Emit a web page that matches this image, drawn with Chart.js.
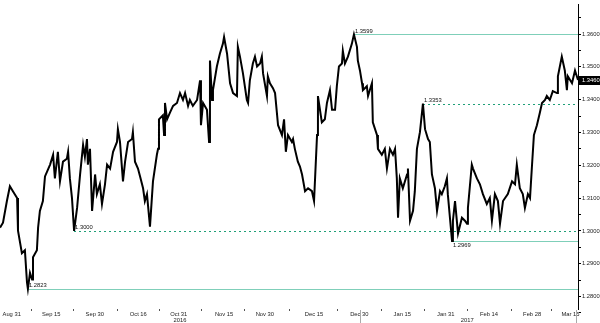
<!DOCTYPE html>
<html>
<head>
<meta charset="utf-8">
<script src="https://cdn.jsdelivr.net/npm/chart.js@4/dist/chart.umd.min.js"></script>
<style>
    html, body { margin: 0; padding: 0; background: #fff; }
    #wrap { width: 600px; height: 323px; }
</style>
</head>
<body>
<div id="wrap"><canvas id="priceChart"></canvas></div>
<script>
// session index (roughly trading days from the left edge)
const times = [
    0, 1.0, 2.3, 3.3, 4.3, 5.7, 6.0, 7.3, 8.3, 9.0, 9.3, 10.0, 10.7, 11.0, 12.3, 12.7, 13.3, 14.3, 15.0, 16.7,
    17.7, 18.3, 19.3, 20.0, 21.0, 22.3, 22.7, 23.3, 24.0, 24.7, 25.7, 26.7, 27.7, 28.3, 29.0, 29.3, 30.0, 30.7, 31.7, 32.3,
    33.3, 34.0, 35.0, 35.7, 36.7, 37.7, 39.0, 39.3, 40.0, 41.0, 41.7, 42.7, 44.0, 44.3, 45.0, 46.0, 46.7, 47.7, 48.3, 49.0,
    50.0, 51.0, 52.3, 52.7, 53.0, 54.3, 54.7, 55.0, 55.7, 56.7, 57.7, 59.0, 60.0, 61.0, 61.7, 62.7, 63.3, 64.3, 65.7, 66.7,
    67.0, 67.7, 69.0, 69.7, 70.0, 70.7, 71.0, 72.3, 73.3, 74.3, 74.7, 75.7, 76.7, 77.7, 79.0, 79.3, 80.0, 81.0, 82.3, 82.7,
    83.3, 84.3, 85.0, 85.7, 86.7, 87.3, 87.7, 89.0, 89.3, 90.0, 91.0, 91.7, 92.3, 92.7, 94.0, 94.7, 95.3, 96.0, 97.3, 97.7,
    98.3, 99.3, 100.0, 100.7, 101.7, 102.7, 104.0, 104.7, 105.7, 106.0, 107.3, 108.3, 109.0, 110.0, 110.7, 111.7, 112.3, 113.0, 114.0, 114.3,
    115.0, 116.0, 117.3, 118.0, 119.0, 119.3, 120.0, 120.7, 121.0, 122.3, 122.7, 124.0, 124.3, 125.7, 126.0, 127.3, 128.3, 129.0, 130.0, 131.0,
    131.7, 132.3, 132.7, 133.3, 134.3, 135.7, 136.0, 136.7, 137.7, 138.3, 139.0, 140.0, 141.0, 141.7, 142.7, 143.3, 144.0, 145.0, 145.7, 146.7,
    147.3, 148.3, 149.0, 149.3, 150.7, 151.0, 151.7, 152.7, 154.0, 155.0, 155.7, 156.0, 157.3, 157.7, 159.0, 160.0, 161.0, 162.3, 163.3, 164.0,
    165.0, 166.0, 166.7, 167.7, 169.3, 170.7, 171.7, 172.3, 173.3, 174.3, 175.0, 176.0, 176.7, 177.3, 178.0, 179.0, 180.0, 180.7, 181.7, 182.3,
    183.3, 184.3, 185.7, 186.0, 187.3, 188.3, 189.0, 189.3, 190.7, 191.7, 192.7
];
const prices = [
    1.3010, 1.3025, 1.3091, 1.3136, 1.3121, 1.3100, 1.3001, 1.2932, 1.2941, 1.2843, 1.2823, 1.2872, 1.2852, 1.2920, 1.2941, 1.3010, 1.3061, 1.3091, 1.3166, 1.3202,
    1.3232, 1.3160, 1.3241, 1.3151, 1.3211, 1.3220, 1.3241, 1.3160, 1.3100, 1.3000, 1.3070, 1.3172, 1.3262, 1.3226, 1.3280, 1.3202, 1.3250, 1.3061, 1.3172, 1.3112,
    1.3142, 1.3082, 1.3142, 1.3202, 1.3190, 1.3241, 1.3271, 1.3310, 1.3271, 1.3151, 1.3211, 1.3271, 1.3280, 1.3301, 1.3211, 1.3190, 1.3166, 1.3130, 1.3091, 1.3112,
    1.3013, 1.3151, 1.3232, 1.3250, 1.3340, 1.3352, 1.3292, 1.3390, 1.3340, 1.3361, 1.3381, 1.3390, 1.3420, 1.3399, 1.3420, 1.3381, 1.3399, 1.3381, 1.3399, 1.3459,
    1.3322, 1.3390, 1.3369, 1.3271, 1.3519, 1.3399, 1.3429, 1.3501, 1.3540, 1.3570, 1.3591, 1.3540, 1.3450, 1.3420, 1.3411, 1.3561, 1.3531, 1.3480, 1.3399, 1.3390,
    1.3459, 1.3510, 1.3531, 1.3501, 1.3510, 1.3531, 1.3480, 1.3411, 1.3471, 1.3450, 1.3435, 1.3420, 1.3361, 1.3322, 1.3292, 1.3340, 1.3241, 1.3292, 1.3271, 1.3280,
    1.3250, 1.3211, 1.3196, 1.3172, 1.3121, 1.3130, 1.3121, 1.3091, 1.3292, 1.3411, 1.3331, 1.3340, 1.3390, 1.3429, 1.3369, 1.3369, 1.3441, 1.3501, 1.3510, 1.3549,
    1.3510, 1.3531, 1.3570, 1.3599, 1.3561, 1.3519, 1.3489, 1.3450, 1.3429, 1.3441, 1.3411, 1.3450, 1.3331, 1.3292, 1.3250, 1.3232, 1.3250, 1.3190, 1.3250, 1.3232,
    1.3250, 1.3160, 1.3040, 1.3160, 1.3130, 1.3172, 1.3190, 1.3031, 1.3061, 1.3121, 1.3250, 1.3301, 1.3388, 1.3310, 1.3280, 1.3271, 1.3172, 1.3130, 1.3061, 1.3121,
    1.3112, 1.3136, 1.3160, 1.3112, 1.2969, 1.3031, 1.3091, 1.2992, 1.3040, 1.3031, 1.3022, 1.3070, 1.3202, 1.3190, 1.3160, 1.3142, 1.3112, 1.3082, 1.3100, 1.3031,
    1.3112, 1.3091, 1.3022, 1.3091, 1.3112, 1.3151, 1.3142, 1.3202, 1.3130, 1.3112, 1.3070, 1.3112, 1.3100, 1.3190, 1.3292, 1.3322, 1.3361, 1.3390, 1.3399, 1.3411,
    1.3399, 1.3426, 1.3420, 1.3471, 1.3531, 1.3489, 1.3429, 1.3471, 1.3450, 1.3489, 1.3460
];

const dateTicks = [3.9, 17.1, 31.6, 46.1, 59.6, 74.7, 88.3, 104.7, 119.8, 134.1, 148.6, 163.0, 177.4, 190.2];
const dateLabels = ['Aug 31', 'Sep 15', 'Sep 30', 'Oct 16', 'Oct 31', 'Nov 15', 'Nov 30', 'Dec 15', 'Dec 30', 'Jan 15', 'Jan 31', 'Feb 14', 'Feb 28', 'Mar 15'];
const yearTicks = [60.0, 155.8];
const yearLabels = ['2016', '2017'];
const yearBreaks = [120.0, 192.0];

const priceTicks = [1.28, 1.29, 1.30, 1.31, 1.32, 1.33, 1.34, 1.35, 1.36];
const minorPriceTicks = [1.275, 1.285, 1.295, 1.305, 1.315, 1.325, 1.335, 1.345, 1.355, 1.365];

// marked highs / lows
const levelValues = [1.3599, 1.3388, 1.3000, 1.2969, 1.2823];
const levelStarts = [118.0, 141.0, 24.7, 150.7, 9.3];
const levelLabels = ['1.3599', '1.3353', '1.3000', '1.2969', '1.2823'];
const levelDashed = [false, true, true, false, false];
const levelBelow = [false, false, false, true, false];

const lastPrice = 1.3460;

const FONT = "'Liberation Sans', Arial, sans-serif";
const FONT_SIZE = 5.8;

const levelPlugin = {
    id: 'levels',
    beforeDatasetsDraw(chart) {
        const { ctx, chartArea, scales: { x, y } } = chart;
        ctx.save();
        levelValues.forEach((v, i) => {
            const py = Math.round(y.getPixelForValue(v)) + 0.5;
            ctx.beginPath();
            ctx.lineWidth = 1;
            if (levelDashed[i]) {
                ctx.strokeStyle = '#1f9f78';
                ctx.setLineDash([2, 3]);
            } else {
                ctx.strokeStyle = '#7fcfb9';
                ctx.setLineDash([]);
            }
            ctx.moveTo(Math.round(x.getPixelForValue(levelStarts[i])), py);
            ctx.lineTo(chartArea.right, py);
            ctx.stroke();
        });
        ctx.restore();
    },
    afterDatasetsDraw(chart) {
        const { ctx, scales: { x, y } } = chart;
        ctx.save();
        ctx.font = FONT_SIZE + 'px ' + FONT;
        ctx.fillStyle = '#111';
        ctx.textAlign = 'left';
        levelValues.forEach((v, i) => {
            const py = y.getPixelForValue(v);
            const px = x.getPixelForValue(levelStarts[i]) + 1;
            if (levelBelow[i]) {
                ctx.textBaseline = 'top';
                ctx.fillText(levelLabels[i], px, py + 1.5);
            } else {
                ctx.textBaseline = 'bottom';
                ctx.fillText(levelLabels[i], px, py - 0.5);
            }
        });
        ctx.restore();
    },
    afterDraw(chart) {
        const { ctx, chartArea, scales: { x, y } } = chart;
        ctx.save();
        // small marks between the date labels
        ctx.strokeStyle = '#555';
        ctx.lineWidth = 1;
        for (let i = 0; i < dateTicks.length - 1; i++) {
            const px = Math.round(x.getPixelForValue((dateTicks[i] + dateTicks[i + 1]) / 2)) + 0.5;
            ctx.beginPath();
            ctx.moveTo(px, chartArea.bottom);
            ctx.lineTo(px, chartArea.bottom + 2);
            ctx.stroke();
        }
        // year separators
        ctx.strokeStyle = '#aaa';
        yearBreaks.forEach(t => {
            const px = Math.round(x.getPixelForValue(t)) + 0.5;
            ctx.beginPath();
            ctx.moveTo(px, chartArea.bottom + 1);
            ctx.lineTo(px, chart.height);
            ctx.stroke();
        });
        // year labels
        ctx.font = FONT_SIZE + 'px ' + FONT;
        ctx.fillStyle = '#222';
        ctx.textAlign = 'center';
        ctx.textBaseline = 'middle';
        yearTicks.forEach((t, i) => {
            ctx.fillText(yearLabels[i], x.getPixelForValue(t), chartArea.bottom + 11);
        });
        // last price tag
        const py = Math.round(y.getPixelForValue(lastPrice));
        ctx.fillStyle = '#000';
        ctx.fillRect(chartArea.right + 1, py - 4, chart.width - chartArea.right - 1, 9);
        ctx.fillStyle = '#fff';
        ctx.textAlign = 'left';
        ctx.fillText(lastPrice.toFixed(4), chartArea.right + 4, py + 0.5);
        ctx.restore();
    }
};

const ctx = document.getElementById('priceChart').getContext('2d');
new Chart(ctx, {
    type: 'line',
    data: {
        datasets: [{
            data: times.map((t, i) => ({ x: t, y: prices[i] })),
            borderColor: '#000',
            borderWidth: 2,
            pointRadius: 0,
            tension: 0,
            fill: false
        }]
    },
    options: {
        responsive: true,
        maintainAspectRatio: false,
        animation: false,
        layout: { padding: 0 },
        plugins: {
            legend: { display: false },
            tooltip: { enabled: false }
        },
        scales: {
            x: {
                type: 'linear',
                min: 0,
                max: 192.7,
                grid: { display: false, drawTicks: false },
                border: { display: false },
                afterBuildTicks: scale => {
                    scale.ticks = dateTicks.map(v => ({ value: v }));
                },
                afterFit: scale => { scale.height = 14; },
                ticks: {
                    autoSkip: false,
                    maxRotation: 0,
                    padding: 2,
                    color: '#222',
                    font: { family: FONT, size: FONT_SIZE },
                    callback: (value, index) => dateLabels[index]
                }
            },
            y: {
                type: 'linear',
                position: 'right',
                min: 1.2762,
                max: 1.3690,
                afterBuildTicks: scale => {
                    scale.ticks = priceTicks.concat(minorPriceTicks)
                        .sort((a, b) => a - b)
                        .map(v => ({ value: v }));
                },
                afterFit: scale => { scale.width = 22; },
                grid: {
                    drawOnChartArea: false,
                    drawTicks: true,
                    tickLength: 3,
                    color: '#000'
                },
                border: { display: true, color: '#000', width: 1 },
                ticks: {
                    autoSkip: false,
                    padding: 1,
                    color: '#222',
                    font: { family: FONT, size: FONT_SIZE },
                    callback: value => priceTicks.some(p => Math.abs(p - value) < 1e-6) ? value.toFixed(4) : ''
                }
            }
        }
    },
    plugins: [levelPlugin]
});
</script>
</body>
</html>
